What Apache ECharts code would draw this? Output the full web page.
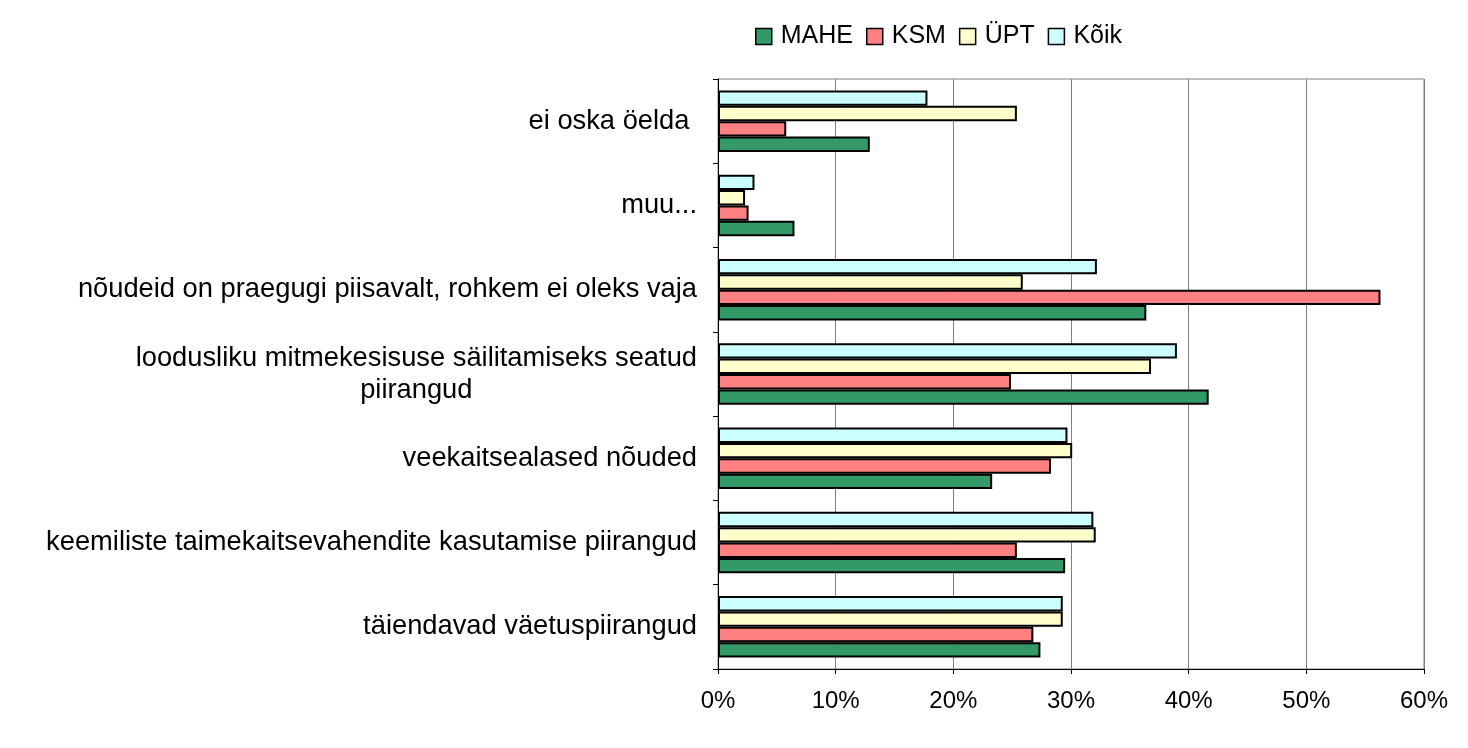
<!DOCTYPE html>
<html>
<head>
<meta charset="utf-8">
<script src="https://cdn.jsdelivr.net/npm/echarts@6/dist/echarts.min.js"></script>
<style>
  html, body { margin: 0; padding: 0; background: #fff; }
  #chart { width: 1468px; height: 748px; }
</style>
</head>
<body>
<div id="chart"></div>
<script>
// categories listed bottom -> top
const categories = [
  "täiendavad väetuspiirangud",
  "keemiliste taimekaitsevahendite kasutamise piirangud",
  "veekaitsealased nõuded",
  "loodusliku mitmekesisuse säilitamiseks seatud\npiirangud",
  "nõudeid on praegugi piisavalt, rohkem ei oleks vaja",
  "muu...",
  "ei oska öelda "
];
const mahe = [27.4, 29.5, 23.3, 41.7, 36.4, 6.5, 12.9];
const ksm = [26.8, 25.4, 28.3, 24.9, 56.3, 2.6, 5.8];
const upt = [29.3, 32.1, 30.1, 36.8, 25.9, 2.3, 25.4];
const koik = [29.3, 31.9, 29.7, 39.0, 32.2, 3.1, 17.8];
const xTicks = [0, 10, 20, 30, 40, 50, 60];

const font = "'Liberation Sans', Arial, sans-serif";
const chart = echarts.init(document.getElementById("chart"));

function bar(name, data, color) {
  return {
    name: name,
    type: "bar",
    data: data,
    barGap: "0%",
    barCategoryGap: "27%",
    itemStyle: { color: color, borderColor: "#000", borderWidth: 2 },
    emphasis: { disabled: true }
  };
}

chart.setOption({
  animation: false,
  backgroundColor: "#fff",
  textStyle: { fontFamily: font },
  legend: {
    data: ["MAHE", "KSM", "ÜPT", "Kõik"],
    top: 19,
    left: 750,
    icon: "rect",
    itemWidth: 16,
    itemHeight: 16,
    itemGap: 13,
    itemStyle: { borderColor: "#000", borderWidth: 1.5 },
    textStyle: { fontSize: 25, color: "#000", fontFamily: font, padding: [0, 0, 0, 4] }
  },
  grid: {
    left: 718,
    right: 44,
    top: 79,
    bottom: 79,
    show: true,
    borderColor: "#808080",
    borderWidth: 1
  },
  xAxis: {
    type: "value",
    min: xTicks[0],
    max: xTicks[xTicks.length - 1],
    interval: 10,
    axisLine: { show: true, lineStyle: { color: "#000", width: 1 } },
    axisTick: { show: true, length: 5, lineStyle: { color: "#000" } },
    splitLine: { show: true, lineStyle: { color: "#808080", width: 1 } },
    axisLabel: {
      formatter: "{value}%",
      fontSize: 24,
      color: "#000",
      fontFamily: font,
      margin: 20
    }
  },
  yAxis: {
    type: "category",
    data: categories,
    axisLine: { show: true, lineStyle: { color: "#000", width: 1 } },
    axisTick: { show: true, length: 5, lineStyle: { color: "#000" } },
    splitLine: { show: false },
    axisLabel: {
      margin: 21,
      color: "#000",
      formatter: function (v) {
        return v.split("\n").map(function (s) { return "{c|" + s + "}"; }).join("\n");
      },
      rich: {
        c: { fontSize: 27.3, lineHeight: 32, color: "#000", fontFamily: font, align: "center" }
      }
    }
  },
  // ECharts stacks grouped horizontal bars top-down, so list the top one first
  series: [
    bar("Kõik", koik, "#CCFFFF"),
    bar("ÜPT", upt, "#FFFFCC"),
    bar("KSM", ksm, "#FF8080"),
    bar("MAHE", mahe, "#339966")
  ]
});
</script>
</body>
</html>
